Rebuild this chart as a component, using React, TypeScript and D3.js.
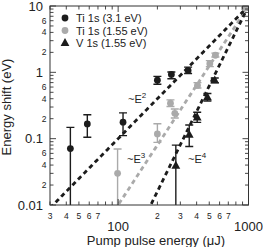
import React from "react";
import * as d3 from "d3";

const tiHiX = [43, 58, 109, 200, 256, 344];
const tiHiY = [0.071, 0.167, 0.177, 0.76, 0.93, 1.07];
const tiHiLo = [0.001, 0.105, 0.111, 0.66, 0.8, 0.96];
const tiHiHi = [0.148, 0.229, 0.245, 0.87, 1.01, 1.2];

const tiLoX = [99, 200, 252, 272, 406, 505, 557, 940];
const tiLoY = [0.03, 0.118, 0.343, 0.241, 0.635, 1.35, 1.81, 9.3];
const tiLoLo = [0.001, 0.088, 0.305, 0.205, 0.58, 1.22, 1.7, 9.0];
const tiLoHi = [0.07, 0.168, 0.385, 0.28, 0.7, 1.5, 1.95, 9.6];

const vX = [277, 351, 404, 484, 551];
const vY = [0.039, 0.115, 0.208, 0.42, 0.757];
const vLo = [0.001, 0.076, 0.176, 0.37, 0.7];
const vHi = [0.08, 0.161, 0.25, 0.48, 0.82];

const fitCoef = [1e-5, 1e-8, 1e-11];
const fitPow = [2, 3, 4];
const fitLabels = ["2", "3", "4"];

const legendLabels = ["Ti 1s (3.1 eV)", "Ti 1s (1.55 eV)", "V 1s (1.55 eV)"];
const xMinorLabels = [3, 4, 5, 6, 7];
const yMinorLabels = [2, 4, 6];

const DARK = "#1c1c1c";
const GRAY = "#aaaaaa";
const FONT = "Liberation Sans, Arial, sans-serif";

export default function App() {
  const L = 50, R = 248.5, T = 6, B = 205;
  const x = d3.scaleLog().domain([30, 1000]).range([L, R]);
  const y = d3.scaleLog().domain([0.01, 10]).range([B, T]);

  const xTicks: { v: number; major: boolean; label: string | null }[] = [];
  for (let e = 1; e <= 3; e++) {
    for (let k = 1; k <= 9; k++) {
      const v = k * Math.pow(10, e);
      if (v < 30 || v > 1000) continue;
      const major = k === 1;
      let label: string | null = null;
      if (!major && xMinorLabels.includes(k)) label = String(k);
      if (!major && k === 2) label = "2";
      xTicks.push({ v, major, label });
    }
  }
  const yTicks: { v: number; major: boolean; label: string | null }[] = [];
  for (let e = -2; e <= 1; e++) {
    for (let k = 1; k <= 9; k++) {
      const v = k * Math.pow(10, e);
      if (v < 0.0099 || v > 10.01) continue;
      const major = k === 1;
      let label: string | null = null;
      if (major) label = e >= 0 ? String(Math.round(v)) : v.toFixed(-e);
      else if (yMinorLabels.includes(k)) label = String(k);
      yTicks.push({ v, major, label });
    }
  }

  const fitLine = (i: number) => {
    const pts: [number, number][] = [];
    for (let lx = Math.log10(30); lx <= 3.0001; lx += 0.005) {
      const xv = Math.pow(10, lx);
      pts.push([xv, fitCoef[i] * Math.pow(xv, fitPow[i])]);
    }
    return d3
      .line<[number, number]>()
      .x((d) => x(d[0]))
      .y((d) => y(d[1]))(pts.filter((d) => d[1] >= 0.008 && d[1] <= 12));
  };

  const errBars = (
    xs: number[],
    lo: number[],
    hi: number[],
    color: string,
    key: string
  ) =>
    xs.map((xv, i) => {
      const px = x(xv);
      const yl = Math.min(y(Math.max(lo[i], 0.01)), B);
      const yh = y(hi[i]);
      return (
        <g key={key + i} stroke={color} strokeWidth={1.4}>
          <line x1={px} x2={px} y1={yl} y2={yh} />
          <line x1={px - 4} x2={px + 4} y1={yh} y2={yh} />
          {lo[i] >= 0.01 && <line x1={px - 4} x2={px + 4} y1={yl} y2={yl} />}
        </g>
      );
    });

  const tri = (cx: number, cy: number, s: number) =>
    `M${cx},${cy - s * 0.62}L${cx + s * 0.55},${cy + s * 0.38}L${cx - s * 0.55},${cy + s * 0.38}Z`;

  return (
    <svg
      width={263}
      height={247}
      style={{ position: "absolute", left: 0, top: 0, background: "#fff" }}
      fontFamily={FONT}
    >
      <defs>
        <clipPath id="plot">
          <rect x={L} y={T} width={R - L} height={B - T} />
        </clipPath>
      </defs>
      <rect x={0} y={0} width={263} height={247} fill="#fff" />

      {/* fit lines */}
      <g clipPath="url(#plot)" fill="none" strokeWidth={2.8} strokeDasharray="4.5 3.5">
        <path d={fitLine(1) || ""} stroke={GRAY} />
        <path d={fitLine(0) || ""} stroke={DARK} />
        <path d={fitLine(2) || ""} stroke={DARK} />
      </g>

      {/* error bars */}
      <g clipPath="url(#plot)">
        {errBars(tiLoX, tiLoLo, tiLoHi, GRAY, "g")}
        {errBars(tiHiX, tiHiLo, tiHiHi, DARK, "d")}
        {errBars(vX, vLo, vHi, DARK, "v")}
      </g>

      {/* markers */}
      <g clipPath="url(#plot)">
        {tiLoX.map((xv, i) => (
          <circle key={"gc" + i} cx={x(xv)} cy={y(tiLoY[i])} r={3.4} fill={GRAY} />
        ))}
        {tiHiX.map((xv, i) => (
          <circle key={"dc" + i} cx={x(xv)} cy={y(tiHiY[i])} r={3.4} fill={DARK} />
        ))}
        {vX.map((xv, i) => (
          <path key={"vt" + i} d={tri(x(xv), y(vY[i]), 8)} fill={DARK} />
        ))}
      </g>

      {/* frame */}
      <rect x={L} y={T} width={R - L} height={B - T} fill="none" stroke="#333" strokeWidth={1} />

      {/* x ticks */}
      {xTicks.map((t, i) => {
        const px = x(t.v);
        const len = t.major ? 6 : 3.5;
        return (
          <g key={"xt" + i} stroke="#333" strokeWidth={0.9}>
            <line x1={px} x2={px} y1={B} y2={B - len} />
            <line x1={px} x2={px} y1={T} y2={T + len} />
          </g>
        );
      })}
      {xTicks
        .filter((t) => t.label)
        .map((t, i) => (
          <text key={"xl" + i} x={x(t.v)} y={218.5} fontSize={8.5} textAnchor="middle" fill="#222">
            {t.label}
          </text>
        ))}
      {[100, 1000].map((v) => (
        <text key={"xm" + v} x={x(v)} y={231} fontSize={13} textAnchor="middle" fill="#222">
          {v}
        </text>
      ))}
      <text x={156} y={245} fontSize={13} textAnchor="middle" fill="#222">
        Pump pulse energy (μJ)
      </text>

      {/* y ticks */}
      {yTicks.map((t, i) => {
        const py = y(t.v);
        const len = t.major ? 6 : 3.5;
        return (
          <g key={"yt" + i} stroke="#333" strokeWidth={0.9}>
            <line x1={L} x2={L + len} y1={py} y2={py} />
            <line x1={R} x2={R - len} y1={py} y2={py} />
          </g>
        );
      })}
      {yTicks
        .filter((t) => t.label)
        .map((t, i) =>
          t.major ? (
            <text key={"yl" + i} x={43} y={y(t.v) + 4.5} fontSize={13} textAnchor="end" fill="#222">
              {t.label}
            </text>
          ) : (
            <text key={"yl" + i} x={46.5} y={y(t.v) + 3} fontSize={8.5} textAnchor="end" fill="#222">
              {t.label}
            </text>
          )
        )}
      <text
        transform="translate(11,107) rotate(-90)"
        fontSize={13}
        textAnchor="middle"
        fill="#222"
      >
        Energy shift (eV)
      </text>

      {/* legend */}
      <circle cx={65} cy={18} r={3.4} fill={DARK} />
      <circle cx={65} cy={30.5} r={3.4} fill={GRAY} />
      <path d={tri(65, 43, 8)} fill={DARK} />
      {legendLabels.map((l, i) => (
        <text key={"lg" + i} x={76} y={22 + i * 12.5} fontSize={11} fill="#222">
          {l}
        </text>
      ))}

      {/* fit labels */}
      {[
        [128, 103],
        [127, 163],
        [188, 163],
      ].map((p, i) => (
        <text key={"fl" + i} x={p[0]} y={p[1]} fontSize={11} fill="#222">
          ~E
          <tspan fontSize={8} dy={-5}>
            {fitLabels[i]}
          </tspan>
        </text>
      ))}
    </svg>
  );
}
